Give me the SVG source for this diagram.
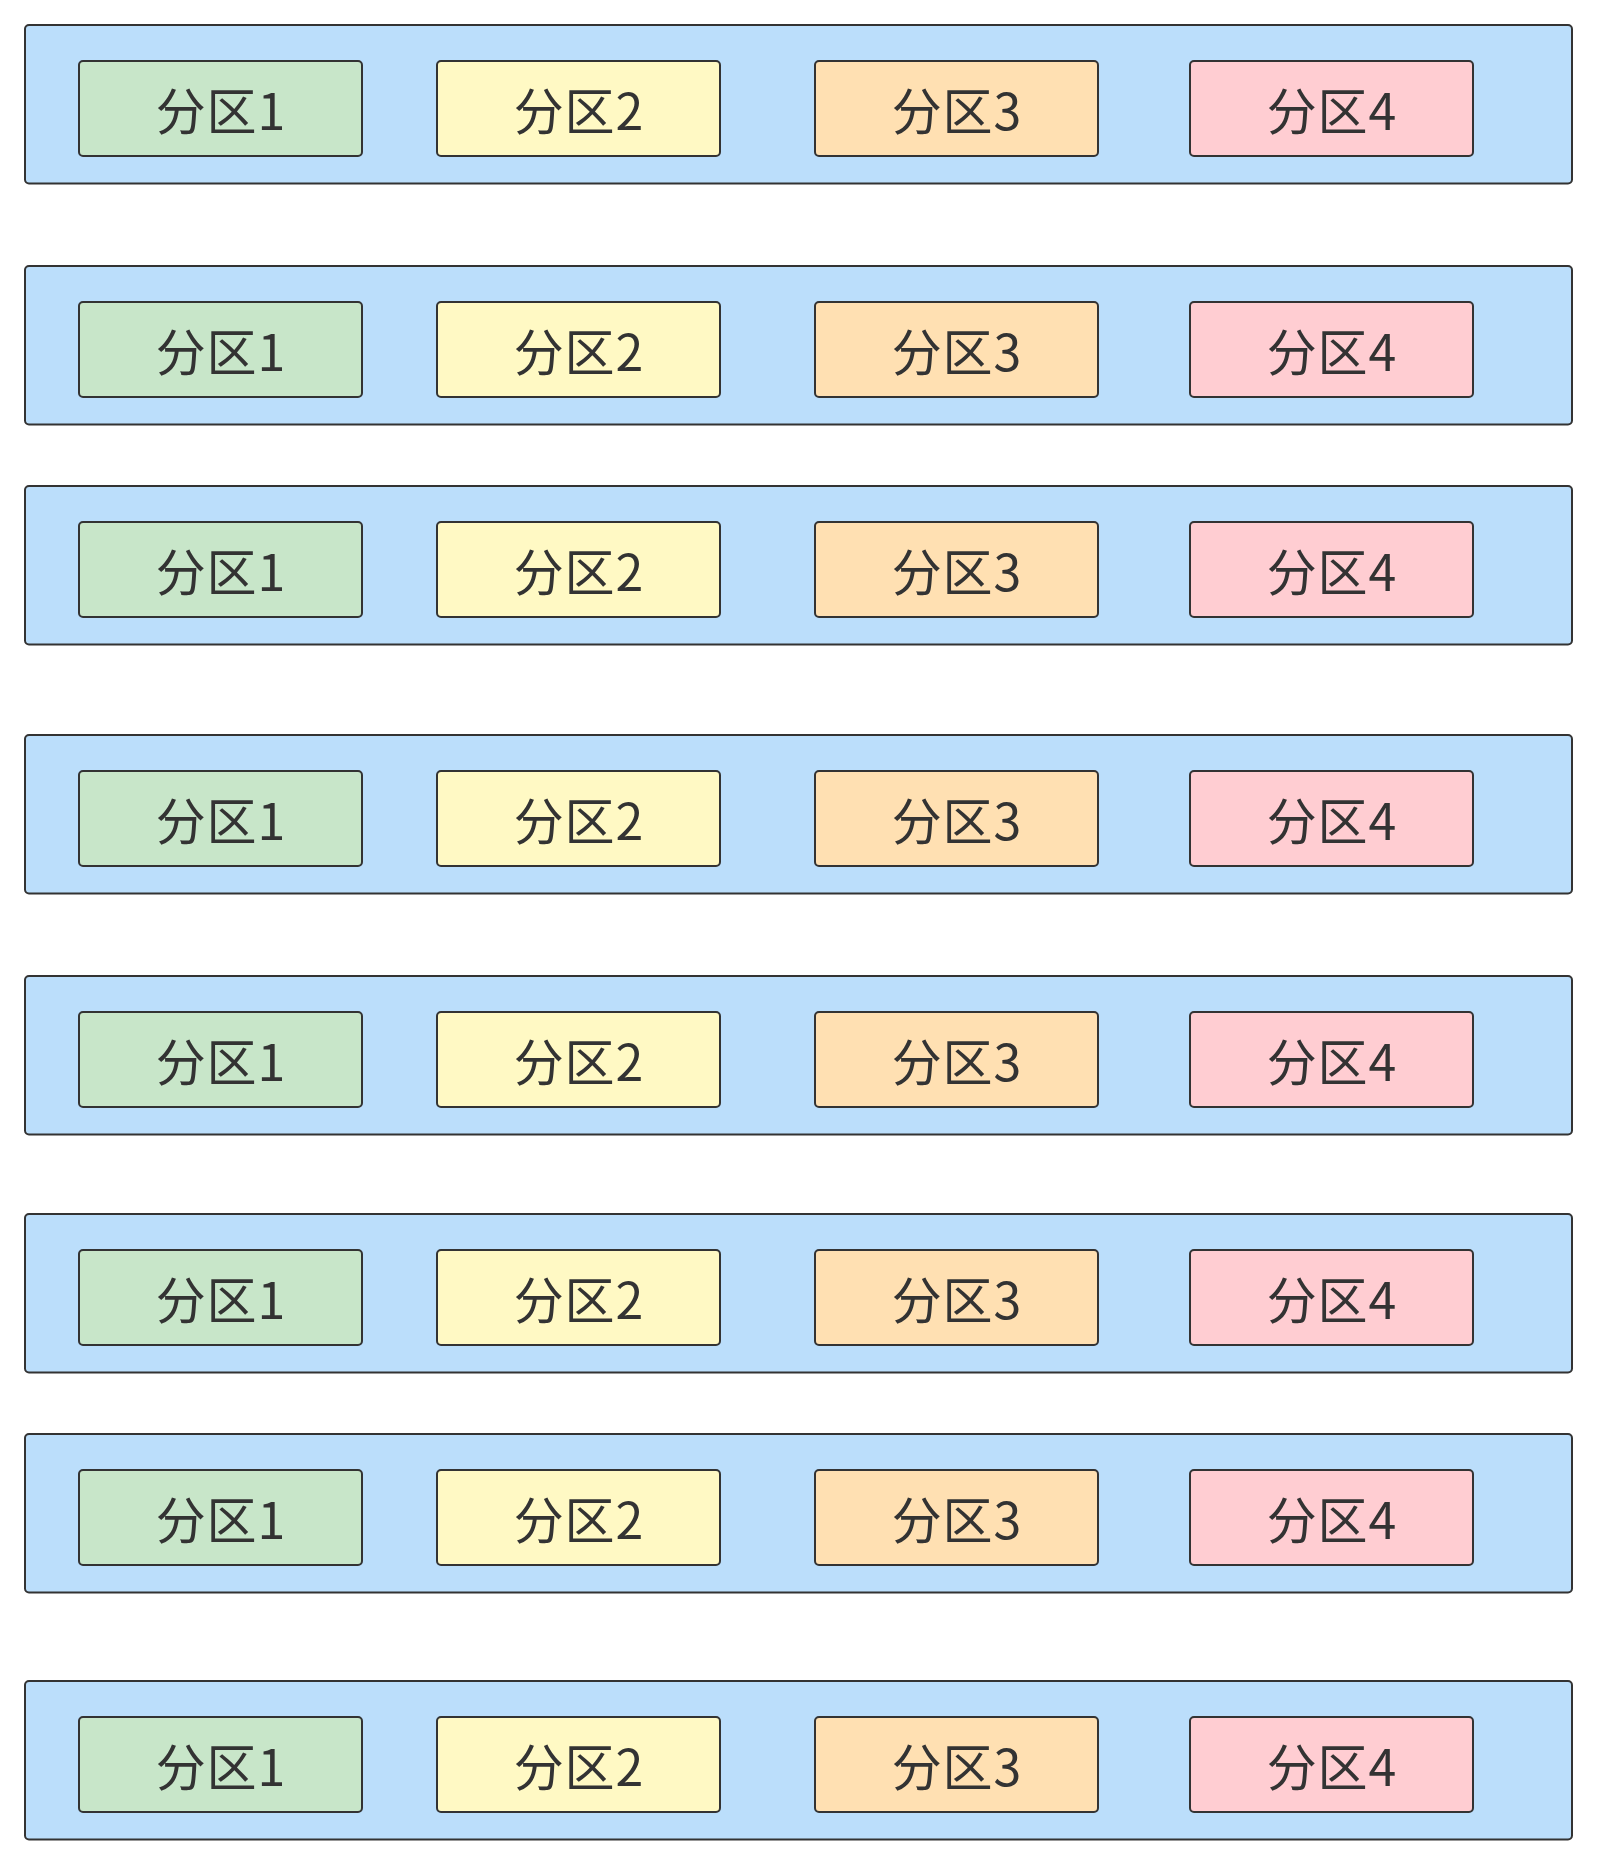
<svg xmlns="http://www.w3.org/2000/svg" width="1597" height="1865" viewBox="0 0 1597 1865">
<style>
.bg{fill:#ffffff}
.row{fill:#BBDEFB;stroke:#333333;stroke-width:2}
.box{stroke:#333333;stroke-width:2}
.p1{fill:#C8E6C9}.p2{fill:#FFF9C4}.p3{fill:#FFE0B2}.p4{fill:#FFCDD2}
.t{font-family:"Noto Sans CJK SC","Noto Sans",sans-serif;font-size:50px;letter-spacing:1px;fill:#333333;text-anchor:middle}
</style>
<rect class="bg" x="0" y="0" width="1597" height="1865"/>
<g id="connectors"/>
<g id="row1" transform="translate(0,25)">
<rect class="row" x="25" y="0" width="1547" height="158.5" rx="4"/>
<g id="row1-p1"><rect class="box p1" x="79" y="36" width="283" height="95" rx="4"/><text class="t" x="221" y="105">分区1</text></g>
<g id="row1-p2"><rect class="box p2" x="437" y="36" width="283" height="95" rx="4"/><text class="t" x="579" y="105">分区2</text></g>
<g id="row1-p3"><rect class="box p3" x="815" y="36" width="283" height="95" rx="4"/><text class="t" x="957" y="105">分区3</text></g>
<g id="row1-p4"><rect class="box p4" x="1190" y="36" width="283" height="95" rx="4"/><text class="t" x="1332" y="105">分区4</text></g>
</g>
<g id="row2" transform="translate(0,266)">
<rect class="row" x="25" y="0" width="1547" height="158.5" rx="4"/>
<g id="row2-p1"><rect class="box p1" x="79" y="36" width="283" height="95" rx="4"/><text class="t" x="221" y="105">分区1</text></g>
<g id="row2-p2"><rect class="box p2" x="437" y="36" width="283" height="95" rx="4"/><text class="t" x="579" y="105">分区2</text></g>
<g id="row2-p3"><rect class="box p3" x="815" y="36" width="283" height="95" rx="4"/><text class="t" x="957" y="105">分区3</text></g>
<g id="row2-p4"><rect class="box p4" x="1190" y="36" width="283" height="95" rx="4"/><text class="t" x="1332" y="105">分区4</text></g>
</g>
<g id="row3" transform="translate(0,486)">
<rect class="row" x="25" y="0" width="1547" height="158.5" rx="4"/>
<g id="row3-p1"><rect class="box p1" x="79" y="36" width="283" height="95" rx="4"/><text class="t" x="221" y="105">分区1</text></g>
<g id="row3-p2"><rect class="box p2" x="437" y="36" width="283" height="95" rx="4"/><text class="t" x="579" y="105">分区2</text></g>
<g id="row3-p3"><rect class="box p3" x="815" y="36" width="283" height="95" rx="4"/><text class="t" x="957" y="105">分区3</text></g>
<g id="row3-p4"><rect class="box p4" x="1190" y="36" width="283" height="95" rx="4"/><text class="t" x="1332" y="105">分区4</text></g>
</g>
<g id="row4" transform="translate(0,735)">
<rect class="row" x="25" y="0" width="1547" height="158.5" rx="4"/>
<g id="row4-p1"><rect class="box p1" x="79" y="36" width="283" height="95" rx="4"/><text class="t" x="221" y="105">分区1</text></g>
<g id="row4-p2"><rect class="box p2" x="437" y="36" width="283" height="95" rx="4"/><text class="t" x="579" y="105">分区2</text></g>
<g id="row4-p3"><rect class="box p3" x="815" y="36" width="283" height="95" rx="4"/><text class="t" x="957" y="105">分区3</text></g>
<g id="row4-p4"><rect class="box p4" x="1190" y="36" width="283" height="95" rx="4"/><text class="t" x="1332" y="105">分区4</text></g>
</g>
<g id="row5" transform="translate(0,976)">
<rect class="row" x="25" y="0" width="1547" height="158.5" rx="4"/>
<g id="row5-p1"><rect class="box p1" x="79" y="36" width="283" height="95" rx="4"/><text class="t" x="221" y="105">分区1</text></g>
<g id="row5-p2"><rect class="box p2" x="437" y="36" width="283" height="95" rx="4"/><text class="t" x="579" y="105">分区2</text></g>
<g id="row5-p3"><rect class="box p3" x="815" y="36" width="283" height="95" rx="4"/><text class="t" x="957" y="105">分区3</text></g>
<g id="row5-p4"><rect class="box p4" x="1190" y="36" width="283" height="95" rx="4"/><text class="t" x="1332" y="105">分区4</text></g>
</g>
<g id="row6" transform="translate(0,1214)">
<rect class="row" x="25" y="0" width="1547" height="158.5" rx="4"/>
<g id="row6-p1"><rect class="box p1" x="79" y="36" width="283" height="95" rx="4"/><text class="t" x="221" y="105">分区1</text></g>
<g id="row6-p2"><rect class="box p2" x="437" y="36" width="283" height="95" rx="4"/><text class="t" x="579" y="105">分区2</text></g>
<g id="row6-p3"><rect class="box p3" x="815" y="36" width="283" height="95" rx="4"/><text class="t" x="957" y="105">分区3</text></g>
<g id="row6-p4"><rect class="box p4" x="1190" y="36" width="283" height="95" rx="4"/><text class="t" x="1332" y="105">分区4</text></g>
</g>
<g id="row7" transform="translate(0,1434)">
<rect class="row" x="25" y="0" width="1547" height="158.5" rx="4"/>
<g id="row7-p1"><rect class="box p1" x="79" y="36" width="283" height="95" rx="4"/><text class="t" x="221" y="105">分区1</text></g>
<g id="row7-p2"><rect class="box p2" x="437" y="36" width="283" height="95" rx="4"/><text class="t" x="579" y="105">分区2</text></g>
<g id="row7-p3"><rect class="box p3" x="815" y="36" width="283" height="95" rx="4"/><text class="t" x="957" y="105">分区3</text></g>
<g id="row7-p4"><rect class="box p4" x="1190" y="36" width="283" height="95" rx="4"/><text class="t" x="1332" y="105">分区4</text></g>
</g>
<g id="row8" transform="translate(0,1681)">
<rect class="row" x="25" y="0" width="1547" height="158.5" rx="4"/>
<g id="row8-p1"><rect class="box p1" x="79" y="36" width="283" height="95" rx="4"/><text class="t" x="221" y="105">分区1</text></g>
<g id="row8-p2"><rect class="box p2" x="437" y="36" width="283" height="95" rx="4"/><text class="t" x="579" y="105">分区2</text></g>
<g id="row8-p3"><rect class="box p3" x="815" y="36" width="283" height="95" rx="4"/><text class="t" x="957" y="105">分区3</text></g>
<g id="row8-p4"><rect class="box p4" x="1190" y="36" width="283" height="95" rx="4"/><text class="t" x="1332" y="105">分区4</text></g>
</g>
</svg>
